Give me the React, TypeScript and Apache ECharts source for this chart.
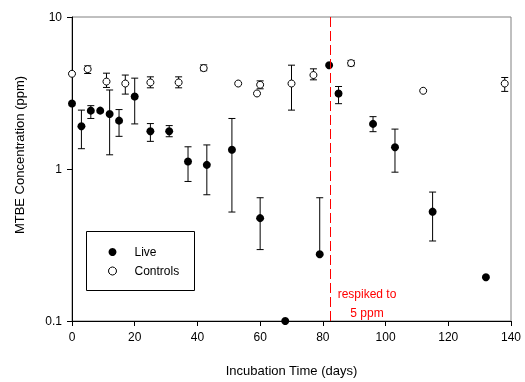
import React, { useEffect, useRef } from "react";
import * as echarts from "echarts";

// Live microcosms
const liveDays = [0, 3, 6, 9, 12, 15, 20, 25, 31, 37, 43, 51, 60, 68, 79, 82, 85, 96, 103, 115, 132];
const liveMTBE = [2.7, 1.91, 2.42, 2.42, 2.3, 2.08, 3.0, 1.77, 1.77, 1.12, 1.065, 1.34, 0.475, 0.1, 0.275, 4.82, 3.14, 1.98, 1.39, 0.524, 0.194];
const liveLow: (number | null)[] = [null, 1.36, 2.15, null, 1.24, 1.64, 1.98, 1.52, 1.63, 0.828, 0.677, 0.521, 0.295, null, 0.275, null, 2.69, 1.76, 0.953, 0.336, null];
const liveHigh: (number | null)[] = [null, 2.44, 2.61, null, 3.31, 2.46, 3.96, 1.99, 1.93, 1.4, 1.44, 2.15, 0.647, null, 0.647, null, 3.49, 2.21, 1.83, 0.705, null];

// Controls
const ctrlDays = [0, 5, 11, 17, 25, 34, 42, 53, 59, 60, 70, 77, 89, 112, 138];
const ctrlMTBE = [4.23, 4.54, 3.76, 3.65, 3.71, 3.71, 4.61, 3.65, 3.14, 3.58, 3.65, 4.15, 4.97, 3.27, 3.65];
const ctrlLow: (number | null)[] = [null, 4.25, 3.44, 3.11, 3.42, 3.42, 4.43, null, null, 3.37, 2.44, 3.86, 4.77, null, 3.24];
const ctrlHigh: (number | null)[] = [null, 4.77, 4.27, 4.15, 4.04, 4.04, 4.84, null, null, 3.8, 4.82, 4.56, 5.18, null, 4.0];

const respikeDay = 82.5;
const xTicks = [0, 20, 40, 60, 80, 100, 120, 140];
const yTicks = [0.1, 1, 10];

const FONT = "'Liberation Sans', Arial, sans-serif";

function errData(days: number[], vals: number[], lo: (number | null)[], hi: (number | null)[]) {
  const out: number[][] = [];
  days.forEach((d, i) => {
    if (lo[i] != null && hi[i] != null) out.push([d, vals[i], lo[i] as number, hi[i] as number]);
  });
  return out;
}

function renderErr(params: any, api: any) {
  const x = api.value(0);
  const v = api.value(1);
  const lo = api.value(2);
  const hi = api.value(3);
  const pHi = api.coord([x, hi]);
  const pLo = api.coord([x, lo]);
  const half = 3.5;
  const st = { stroke: "#000", lineWidth: 1 };
  const children: any[] = [
    { type: "line", shape: { x1: pHi[0], y1: pHi[1], x2: pLo[0], y2: pLo[1] }, style: st },
    { type: "line", shape: { x1: pHi[0] - half, y1: pHi[1], x2: pHi[0] + half, y2: pHi[1] }, style: st },
  ];
  if (lo < v) {
    children.push({ type: "line", shape: { x1: pLo[0] - half, y1: pLo[1], x2: pLo[0] + half, y2: pLo[1] }, style: st });
  }
  return { type: "group", children };
}

export default function App() {
  const ref = useRef<HTMLDivElement>(null);
  useEffect(() => {
    if (!ref.current) return;
    const chart = echarts.init(ref.current, null, { renderer: "svg" });
    chart.setOption({
      animation: false,
      textStyle: { fontFamily: FONT },
      grid: { left: 72, right: 14, top: 17, bottom: 60, show: true, borderColor: "#808080", borderWidth: 1, backgroundColor: "transparent" },
      xAxis: {
        type: "value",
        min: xTicks[0],
        max: xTicks[xTicks.length - 1],
        interval: 20,
        name: "Incubation Time (days)",
        nameLocation: "middle",
        nameGap: 43,
        nameTextStyle: { fontSize: 13, color: "#000", fontFamily: FONT },
        axisLine: { lineStyle: { color: "#000", width: 1 } },
        axisTick: { inside: false, length: 5, lineStyle: { color: "#000" } },
        axisLabel: { fontSize: 12, color: "#000", margin: 10, fontFamily: FONT },
        splitLine: { show: false },
      },
      yAxis: {
        type: "log",
        logBase: 10,
        min: yTicks[0],
        max: yTicks[yTicks.length - 1],
        axisLine: { show: true, lineStyle: { color: "#000", width: 1 } },
        axisTick: { show: true, inside: false, length: 5, lineStyle: { color: "#000" } },
        minorTick: { show: false },
        axisLabel: {
          fontSize: 12,
          color: "#000",
          margin: 10,
          fontFamily: FONT,
          formatter: (v: number) => (v < 1 ? v.toFixed(1) : String(Math.round(v))),
        },
        splitLine: { show: false },
      },
      legend: {
        left: 103,
        top: 240,
        orient: "vertical",
        itemWidth: 34,
        itemHeight: 8,
        itemGap: 5,
        z: 10,
        textStyle: { fontSize: 12, color: "#000", fontFamily: FONT, lineHeight: 14 },
        data: [
          { name: "Live", icon: "circle", itemStyle: { color: "#000", borderWidth: 0, opacity: 1 } },
          { name: "Controls", icon: "circle", itemStyle: { color: "#fff", borderColor: "#000", borderWidth: 1, opacity: 1 } },
        ],
      },
      graphic: [
        {
          type: "rect",
          z: 5,
          shape: { x: 86.5, y: 231.5, width: 108, height: 59 },
          style: { fill: "#fff", stroke: "#000", lineWidth: 1 },
        },
        {
          type: "text",
          x: 19,
          y: 155,
          rotation: Math.PI / 2,
          style: { text: "MTBE Concentration (ppm)", fontSize: 13, fontFamily: FONT, fill: "#000", textAlign: "center", textVerticalAlign: "middle" },
        },
        {
          type: "text",
          x: 367,
          y: 294,
          style: { text: "respiked to", fontSize: 12, fontFamily: FONT, fill: "#ff0000", textAlign: "center", textVerticalAlign: "middle" },
        },
        {
          type: "text",
          x: 367,
          y: 313,
          style: { text: "5 ppm", fontSize: 12, fontFamily: FONT, fill: "#ff0000", textAlign: "center", textVerticalAlign: "middle" },
        },
      ],
      series: [
        {
          type: "custom",
          name: "liveErr",
          renderItem: renderErr,
          data: errData(liveDays, liveMTBE, liveLow, liveHigh),
          z: 1,
          clip: false,
          encode: { x: 0, y: [1, 2, 3] },
        },
        {
          type: "custom",
          name: "ctrlErr",
          renderItem: renderErr,
          data: errData(ctrlDays, ctrlMTBE, ctrlLow, ctrlHigh),
          z: 1,
          clip: false,
          encode: { x: 0, y: [1, 2, 3] },
        },
        {
          type: "scatter",
          name: "Controls",
          data: ctrlDays.map((d, i) => [d, ctrlMTBE[i]]),
          symbol: "circle",
          symbolSize: 7,
          itemStyle: { color: "#fff", borderColor: "#000", borderWidth: 1, opacity: 1 },
          z: 3,
          clip: false,
        },
        {
          type: "scatter",
          name: "Live",
          data: liveDays.map((d, i) => [d, liveMTBE[i]]),
          symbol: "circle",
          symbolSize: 8,
          itemStyle: { color: "#000", opacity: 1 },
          z: 4,
          clip: false,
          markLine: {
            silent: true,
            symbol: "none",
            label: { show: false },
            lineStyle: { color: "#ff0000", type: [10, 4], width: 1, opacity: 1 },
            data: [{ xAxis: respikeDay }],
          },
        },
      ],
    });
    return () => chart.dispose();
  }, []);
  return <div ref={ref} style={{ position: "fixed", left: 0, top: 0, width: 525, height: 382 }} />;
}
